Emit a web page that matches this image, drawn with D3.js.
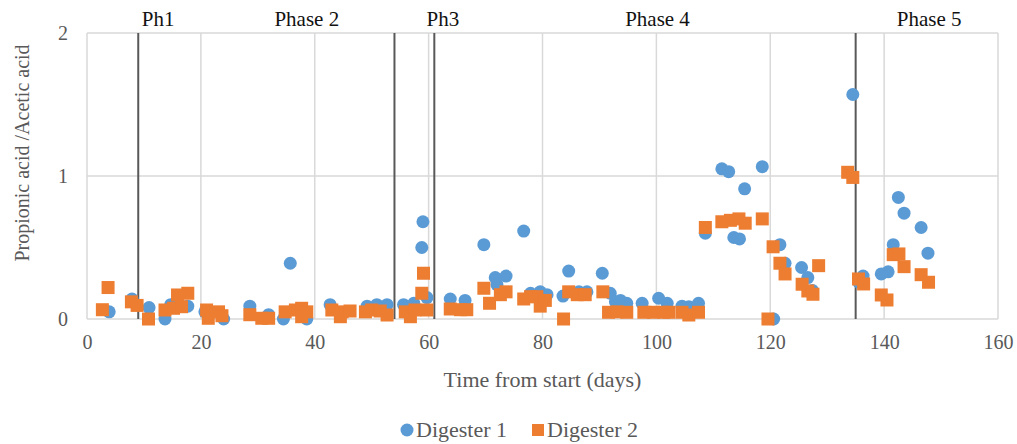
<!DOCTYPE html>
<html>
<head>
<meta charset="utf-8">
<script src="https://cdn.jsdelivr.net/npm/d3@7/dist/d3.min.js"></script>
<style>
  html, body { margin: 0; padding: 0; background: #fff; }
  svg { display: block; }
  svg text { font-family: "Liberation Serif", "Times New Roman", serif !important; }
</style>
</head>
<body>
<svg id="chart" width="1017" height="444"></svg>
<script>
// Digester 1: [day, propionic/acetic ratio]
const digester1 = [
  [3.9,0.05],[7.9,0.14],[10.9,0.08],[13.7,0.0],[14.7,0.1],[17.7,0.09],[20.7,0.05],[24.0,0.0],
  [28.6,0.09],[31.9,0.03],[34.5,0.0],[35.7,0.39],[38.6,0.0],[42.7,0.1],
  [49.2,0.09],[50.9,0.1],[52.7,0.1],[55.6,0.1],[57.4,0.11],[58.8,0.5],[59.0,0.68],[59.7,0.15],
  [63.8,0.14],[66.4,0.13],[69.7,0.52],[71.7,0.29],[72.0,0.24],[73.6,0.3],[76.7,0.615],[77.9,0.18],
  [79.6,0.19],[80.8,0.17],[83.6,0.16],[84.6,0.335],[86.4,0.19],[87.8,0.19],[90.5,0.32],[91.9,0.18],
  [92.8,0.12],[93.7,0.13],[94.8,0.11],[97.5,0.11],[100.4,0.145],[101.9,0.11],[104.5,0.09],[105.7,0.086],
  [107.4,0.11],[108.6,0.6],[111.5,1.05],[112.7,1.03],[113.6,0.57],[114.6,0.56],[115.5,0.91],[118.6,1.065],
  [120.6,0.0],[121.7,0.52],[122.6,0.39],[125.5,0.36],[126.6,0.29],[127.4,0.2],[134.5,1.57],[135.5,0.26],
  [136.3,0.3],[139.5,0.315],[140.7,0.33],[141.6,0.52],[142.5,0.85],[143.5,0.74],[146.5,0.64],[147.7,0.46]
];

// Digester 2: [day, propionic/acetic ratio]
const digester2 = [
  [2.7,0.065],[3.7,0.22],[7.8,0.12],[8.8,0.095],[10.8,0.0],[13.7,0.063],[15.2,0.075],[15.9,0.168],
  [16.6,0.086],[17.7,0.18],[21.0,0.063],[21.3,0.005],[23.1,0.05],[23.7,0.023],
  [28.6,0.03],[30.7,0.005],[31.9,0.005],[34.8,0.05],[36.6,0.063],[37.7,0.075],[37.7,0.016],[38.6,0.05],
  [43.0,0.063],[44.5,0.016],[44.8,0.05],[46.2,0.056],[48.9,0.05],[50.0,0.063],[51.5,0.056],[52.7,0.028],
  [55.9,0.05],[56.8,0.016],[57.6,0.063],[58.8,0.18],[59.1,0.32],[59.7,0.063],[63.8,0.07],[65.6,0.065],
  [66.7,0.065],[69.7,0.215],[70.7,0.11],[72.6,0.17],[73.6,0.19],[76.7,0.14],[77.9,0.156],[79.0,0.156],
  [79.6,0.09],[80.5,0.13],[83.7,0.0],[84.6,0.19],[86.1,0.17],[87.5,0.17],[90.6,0.19],[91.6,0.047],
  [93.1,0.05],[94.8,0.047],[97.8,0.047],[99.5,0.047],[101.3,0.047],[102.2,0.047],[104.5,0.047],[105.7,0.028],
  [107.4,0.047],[108.6,0.64],[111.5,0.68],[113.0,0.69],[114.5,0.70],[115.6,0.67],[118.6,0.70],[119.6,0.0],
  [120.5,0.505],[121.7,0.39],[122.6,0.315],[125.6,0.243],[126.6,0.196],[127.5,0.173],[128.5,0.373],
  [133.6,1.026],[134.5,0.99],[135.5,0.28],[136.4,0.245],[139.5,0.168],[140.5,0.133],[141.6,0.45],
  [142.6,0.455],[143.5,0.366],[146.5,0.31],[147.8,0.257]
];

// Phase boundaries (days) and phase names with the day each name is centred on
const phaseBoundaries = [9, 54, 61, 135];
const phaseNames = ["Ph1", "Phase 2", "Ph3", "Phase 4", "Phase 5"];
const phaseNameDays = [12.5, 38.6, 62.5, 100.2, 147.9];

const xTicks = [0, 20, 40, 60, 80, 100, 120, 140, 160];
const yTicks = [0, 1, 2];
const seriesNames = ["Digester 1", "Digester 2"];
const seriesColors = ["#5B9BD5", "#ED7D31"];

const svg = d3.select("#chart");
const margin = { left: 87, right: 19, top: 33, bottom: 125 };
const W = 1017, H = 444;

const x = d3.scaleLinear().domain([0, 160]).range([margin.left, W - margin.right]);
const y = d3.scaleLinear().domain([0, 2]).range([H - margin.bottom, margin.top]);

const textColor = "#595959";
const gridColor = "#D9D9D9";

// gridlines
svg.append("g").selectAll("line").data(xTicks).join("line")
  .attr("x1", d => x(d)).attr("x2", d => x(d))
  .attr("y1", y(0)).attr("y2", y(2))
  .attr("stroke", gridColor).attr("stroke-width", 1.5);
svg.append("g").selectAll("line").data(yTicks).join("line")
  .attr("x1", x(0)).attr("x2", x(160))
  .attr("y1", d => y(d)).attr("y2", d => y(d))
  .attr("stroke", gridColor).attr("stroke-width", 1.5);

// axes (tick labels only; the axis lines are the gridlines above)
const xAxis = d3.axisBottom(x).tickValues(xTicks).tickFormat(d3.format("d")).tickSize(0).tickPadding(16);
const gx = svg.append("g").attr("transform", `translate(0,${y(0)})`).call(xAxis);
gx.select(".domain").remove();
gx.selectAll("text").attr("fill", textColor).style("font-size", "20px");

const yAxis = d3.axisLeft(y).tickValues(yTicks).tickFormat(d3.format("d")).tickSize(0).tickPadding(19);
const gy = svg.append("g").attr("transform", `translate(${x(0)},0)`).call(yAxis);
gy.select(".domain").remove();
gy.selectAll("text").attr("fill", textColor).style("font-size", "20px");

// phase boundary lines
svg.append("g").selectAll("line").data(phaseBoundaries).join("line")
  .attr("x1", d => x(d)).attr("x2", d => x(d))
  .attr("y1", y(0)).attr("y2", y(2))
  .attr("stroke", "#595959").attr("stroke-width", 2);

// phase names
svg.append("g").selectAll("text").data(phaseNames).join("text")
  .attr("x", (d, i) => x(phaseNameDays[i]))
  .attr("y", 26)
  .attr("text-anchor", "middle")
  .attr("fill", "#111")
  .style("font-size", "21px")
  .text(d => d);

// Digester 1 markers (circles)
svg.append("g").selectAll("circle").data(digester1).join("circle")
  .attr("cx", d => x(d[0])).attr("cy", d => y(d[1]))
  .attr("r", 6.5)
  .attr("fill", seriesColors[0]);

// Digester 2 markers (squares), drawn on top
const sq = 13;
svg.append("g").selectAll("rect").data(digester2).join("rect")
  .attr("x", d => x(d[0]) - sq / 2).attr("y", d => y(d[1]) - sq / 2)
  .attr("width", sq).attr("height", sq)
  .attr("fill", seriesColors[1]);

// axis titles
svg.append("text")
  .attr("x", (x(0) + x(160)) / 2).attr("y", 387)
  .attr("text-anchor", "middle").attr("fill", textColor)
  .style("font-size", "22px")
  .text("Time from start (days)");

svg.append("text")
  .attr("transform", `translate(29,${(y(0) + y(2)) / 2 - 23}) rotate(-90)`)
  .attr("text-anchor", "middle").attr("fill", textColor)
  .style("font-size", "20px")
  .text("Propionic acid /Acetic acid");

// legend
const legend = svg.append("g");
const legendX = [407, 538];
legend.append("circle").attr("cx", legendX[0]).attr("cy", 430).attr("r", 6.5).attr("fill", seriesColors[0]);
legend.append("rect").attr("x", legendX[1] - 6).attr("y", 424).attr("width", 12).attr("height", 12).attr("fill", seriesColors[1]);
legend.selectAll("text").data(seriesNames).join("text")
  .attr("x", (d, i) => legendX[i] + 9).attr("y", 437)
  .attr("fill", textColor).style("font-size", "22px")
  .text(d => d);
</script>
</body>
</html>
